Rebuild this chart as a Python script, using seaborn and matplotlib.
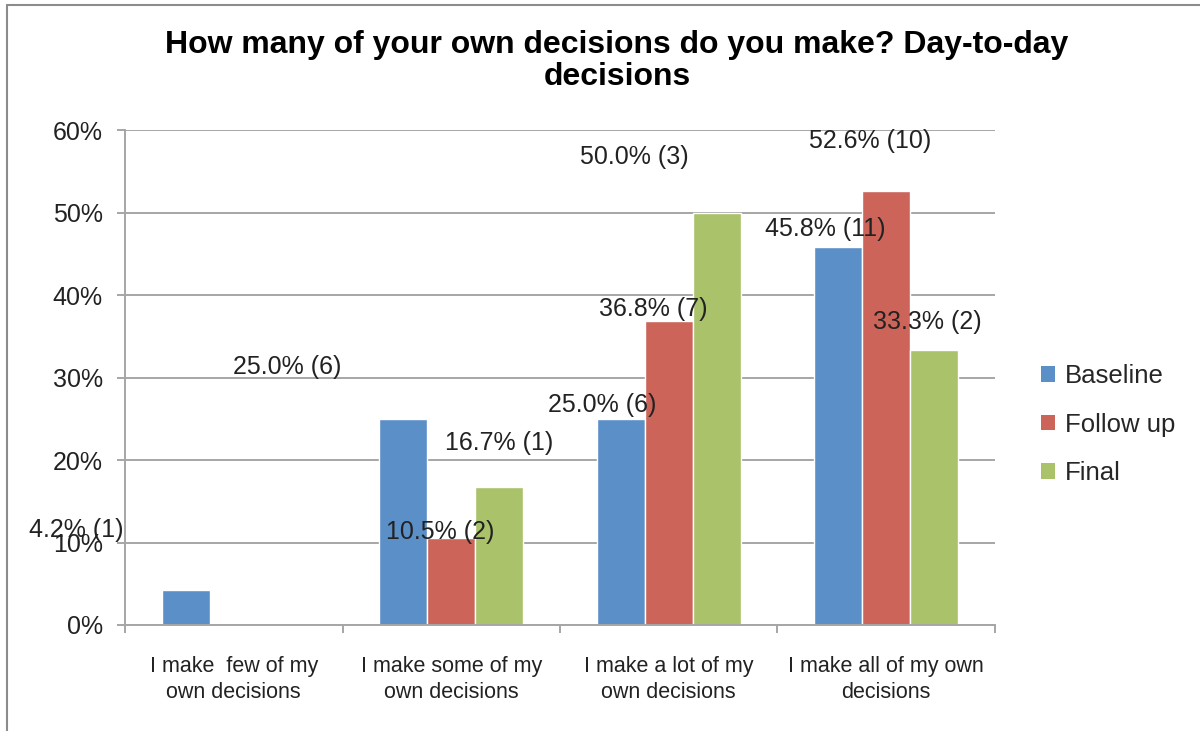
import numpy as np
import pandas as pd
import matplotlib
matplotlib.use("Agg")
import matplotlib.pyplot as plt
from matplotlib.lines import Line2D
from matplotlib.patches import Patch
import seaborn as sns

# data
categories = ["I make  few of my\nown decisions", "I make some of my\nown decisions",
              "I make a lot of my\nown decisions", "I make all of my own\ndecisions"]
series = ["Baseline", "Follow up", "Final"]
baseline = [4.2, 25.0, 25.0, 45.8]
follow_up = [0.0, 10.5, 36.8, 52.6]
final = [0.0, 16.7, 50.0, 33.3]
baseline_n = [1, 6, 6, 11]
follow_up_n = [0, 2, 7, 10]
final_n = [0, 1, 3, 2]
colors = ["#5B8FC8", "#CC645A", "#AAC26A"]

# where Excel dropped the data labels, relative to each bar top (x in category units, y in %)
label_dx = [[-0.505, -0.536, -0.085, -0.061],
            [0.0, -0.053, -0.071, -0.074],
            [0.0, 0.002, -0.378, -0.032]]
label_dy = [[7.35, 6.33, 1.63, 2.17],
            [0.0, 0.72, 1.52, 6.07],
            [0.0, 5.35, 6.75, 3.45]]

df = pd.DataFrame({
    "category": categories * 3,
    "series": np.repeat(series, len(categories)),
    "value": baseline + follow_up + final,
    "n": baseline_n + follow_up_n + final_n,
})

sns.set_style("white")
plt.rcParams["font.family"] = ["Liberation Sans", "DejaVu Sans"]

fig = plt.figure(figsize=(12, 7.31), dpi=100)
ax = fig.add_axes([125 / 1200, 1 - 625 / 731, 870 / 1200, 495 / 731])

sns.barplot(data=df, x="category", y="value", hue="series", hue_order=series,
            order=categories, palette=colors, saturation=1, width=0.66,
            ax=ax, legend=False)

ax.set_ylim(0, 60)
ax.set_xlim(-0.5, len(categories) - 0.5)
ax.set_yticks(range(0, 61, 10))
ax.set_yticklabels([f"{t}%" for t in range(0, 61, 10)], fontsize=18, color="#222222")
ax.set_xlabel("")
ax.set_ylabel("")
ax.grid(axis="y", color="#a6a6a6", linewidth=1.4)
ax.set_axisbelow(True)
for s in ["top", "right"]:
    ax.spines[s].set_visible(False)
for s in ["left", "bottom"]:
    ax.spines[s].set_color("#a6a6a6")
    ax.spines[s].set_linewidth(1.4)

ax.tick_params(axis="y", left=True, length=6, width=1.4, color="#a6a6a6", pad=10)
ax.tick_params(axis="x", which="major", length=0, pad=22, labelsize=15.5, labelcolor="#222222")
ax.set_xticks(np.arange(-0.5, len(categories), 1.0), minor=True)
ax.tick_params(axis="x", which="minor", bottom=True, length=6, width=1.4, color="#a6a6a6")
for t in ax.get_xticklabels():
    t.set_linespacing(1.35)

# data labels
counts = [baseline_n, follow_up_n, final_n]
for j, cont in enumerate(ax.containers):
    for i, bar in enumerate(cont):
        h = bar.get_height()
        if h == 0:
            continue
        x = bar.get_x() + bar.get_width() / 2 + label_dx[j][i]
        ax.text(x, h + label_dy[j][i], f"{h:.1f}% ({counts[j][i]})",
                ha="center", va="center", fontsize=18, color="#222222", clip_on=False)

handles = [Patch(facecolor=c, edgecolor="none") for c in colors]
ax.legend(handles, series, loc="center left", bbox_to_anchor=(1.041, 0.405),
          frameon=False, fontsize=18.5, handlelength=0.55, handleheight=0.55,
          handletextpad=0.4, labelspacing=0.95, borderaxespad=0)

fig.text(617 / 1200, 1 - 61 / 731,
         "How many of your own decisions do you make? Day-to-day\ndecisions",
         ha="center", va="center", fontsize=23, fontweight="bold", linespacing=1.1,
         color="black")

# outer chart frame
fig.add_artist(Line2D([7 / 1200, 7 / 1200], [0, 1 - 5 / 731], transform=fig.transFigure,
                      color="#8c8c8c", linewidth=1.5))
fig.add_artist(Line2D([7 / 1200, 1], [1 - 5 / 731, 1 - 5 / 731], transform=fig.transFigure,
                      color="#8c8c8c", linewidth=1.5))

fig.savefig("out.png", dpi=100)
